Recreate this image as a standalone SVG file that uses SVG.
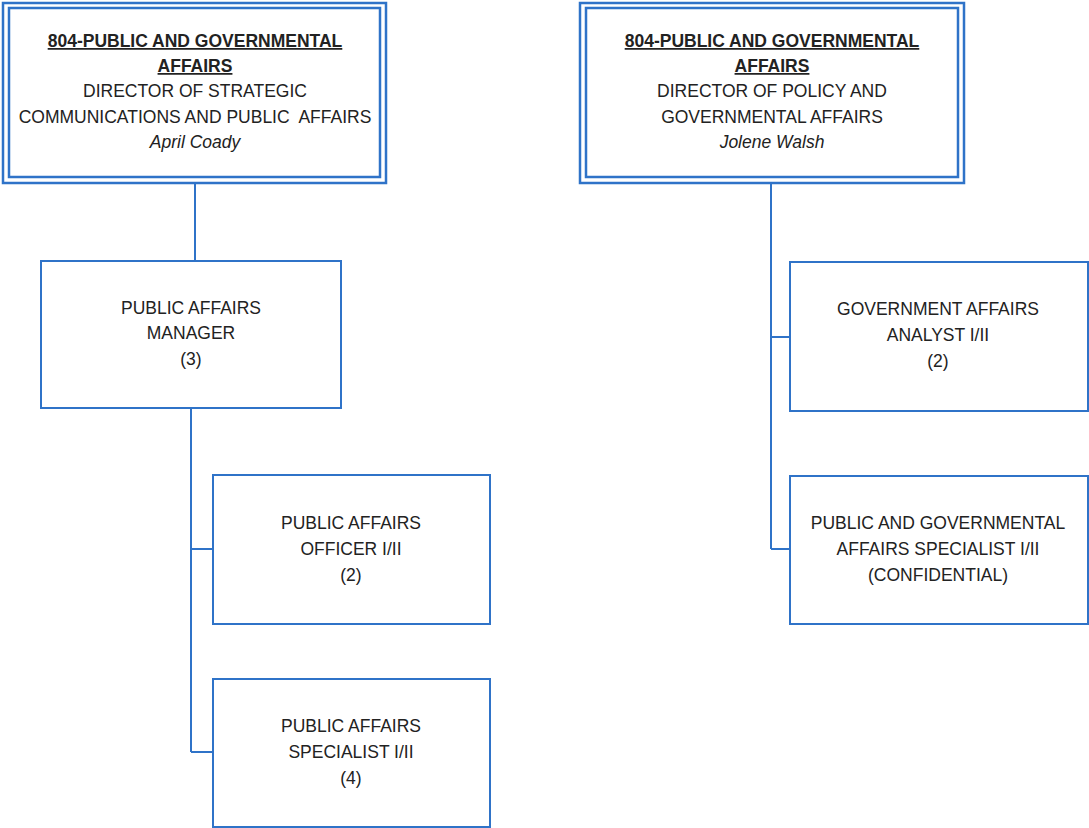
<svg xmlns="http://www.w3.org/2000/svg" width="1089" height="828" viewBox="0 0 1089 828">
<style>
.box{fill:#fff;stroke:#2F73C8;stroke-width:2}
.dbl{fill:none;stroke:#2F73C8;stroke-width:2.5}
.con{fill:none;stroke:#2F73C8;stroke-width:2}
text{font-family:"Liberation Sans",Arial,sans-serif;font-size:17.5px;fill:#222;text-anchor:middle;white-space:pre}
.b{font-weight:bold;text-decoration:underline}
.i{font-style:italic}
</style>
<rect width="1089" height="828" fill="#fff"/>
<g id="connectors">
<path class="con" d="M195 183V261"/>
<path class="con" d="M191 408V752M191 549H213M191 752H213"/>
<path class="con" d="M771 183V549M771 337H790M771 549H790"/>
</g>
<g id="dir-strategic">
<rect class="dbl" x="3" y="3" width="383" height="180"/>
<rect class="dbl" x="9" y="8" width="371" height="169" fill="#fff"/>
<text x="195" y="47" class="b">804-PUBLIC AND GOVERNMENTAL</text>
<text x="195" y="72" class="b">AFFAIRS</text>
<text x="195" y="97">DIRECTOR OF STRATEGIC</text>
<text x="195" y="123" xml:space="preserve">COMMUNICATIONS AND PUBLIC  AFFAIRS</text>
<text x="195" y="148" class="i">April Coady</text>
</g>
<g id="dir-policy">
<rect class="dbl" x="580" y="3" width="384" height="180"/>
<rect class="dbl" x="586" y="8" width="372" height="169" fill="#fff"/>
<text x="772" y="47" class="b">804-PUBLIC AND GOVERNMENTAL</text>
<text x="772" y="72" class="b">AFFAIRS</text>
<text x="772" y="97">DIRECTOR OF POLICY AND</text>
<text x="772" y="123">GOVERNMENTAL AFFAIRS</text>
<text x="772" y="148" class="i">Jolene Walsh</text>
</g>
<g id="pa-manager">
<rect class="box" x="41" y="261" width="300" height="147"/>
<text x="191" y="314">PUBLIC AFFAIRS</text>
<text x="191" y="339">MANAGER</text>
<text x="191" y="365">(3)</text>
</g>
<g id="pa-officer">
<rect class="box" x="213" y="475" width="277" height="149"/>
<text x="351" y="529">PUBLIC AFFAIRS</text>
<text x="351" y="555">OFFICER I/II</text>
<text x="351" y="581">(2)</text>
</g>
<g id="pa-specialist">
<rect class="box" x="213" y="679" width="277" height="148"/>
<text x="351" y="732">PUBLIC AFFAIRS</text>
<text x="351" y="758">SPECIALIST I/II</text>
<text x="351" y="784">(4)</text>
</g>
<g id="ga-analyst">
<rect class="box" x="790" y="262" width="298" height="149"/>
<text x="938" y="315">GOVERNMENT AFFAIRS</text>
<text x="938" y="341">ANALYST I/II</text>
<text x="938" y="367">(2)</text>
</g>
<g id="pga-specialist">
<rect class="box" x="790" y="476" width="298" height="148"/>
<text x="938" y="529">PUBLIC AND GOVERNMENTAL</text>
<text x="938" y="555">AFFAIRS SPECIALIST I/II</text>
<text x="938" y="581">(CONFIDENTIAL)</text>
</g>
</svg>
